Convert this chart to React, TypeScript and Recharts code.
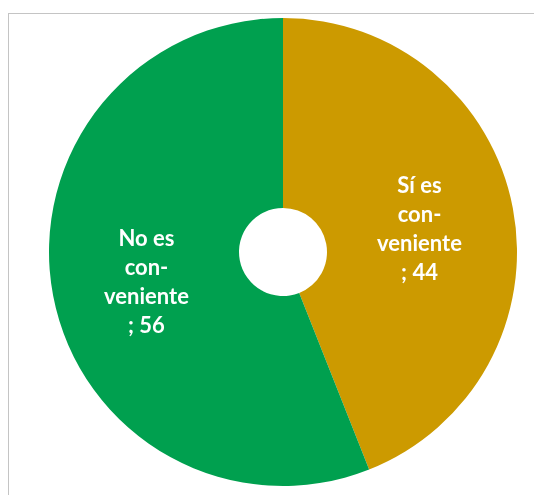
import { PieChart, Pie, Cell } from "recharts";

const categories = ["Sí es conveniente", "No es conveniente"];
const values = [44, 56];
const labelLines = [
  ["Sí es", "con-", "veniente", "; 44"],
  ["No es", "con-", "veniente", "; 56"],
];
const colors = ["#CC9A00", "#00A04F"];

const data = categories.map((name, i) => ({ name, value: values[i] }));

const RADIAN = Math.PI / 180;

const renderLabel = (props: any) => {
  const { cx, cy, midAngle, innerRadius, outerRadius, index } = props;
  const r = (innerRadius + outerRadius) / 2;
  const x = cx + r * Math.cos(-midAngle * RADIAN);
  const y = cy + r * Math.sin(-midAngle * RADIAN) + 2;
  const lines = labelLines[index];
  const lh = 29;
  const startY = y - ((lines.length - 1) * lh) / 2;
  return (
    <text
      x={x}
      y={startY}
      fill="#ffffff"
      textAnchor="middle"
      dominantBaseline="central"
      style={{ fontFamily: "Lato, 'Open Sans', sans-serif", fontWeight: 700, fontSize: 22 }}
    >
      {lines.map((l, i) => (
        <tspan key={i} x={x} y={startY + i * lh}>
          {l}
        </tspan>
      ))}
    </text>
  );
};

export default function App() {
  return (
    <div
      style={{
        position: "fixed",
        left: 8,
        top: 13,
        width: 540,
        height: 500,
        borderTop: "1px solid #C4C4C4",
        borderLeft: "1px solid #C4C4C4",
        overflow: "hidden",
      }}
    >
      <PieChart width={530} height={490} margin={{ top: 0, right: 0, bottom: 0, left: 0 }}>
        <Pie
          data={data}
          dataKey="value"
          nameKey="name"
          cx={274}
          cy={238}
          innerRadius={44}
          outerRadius={234}
          startAngle={90}
          endAngle={-270}
          stroke="none"
          label={renderLabel}
          labelLine={false}
          isAnimationActive={false}
        >
          {data.map((d, i) => (
            <Cell key={d.name} fill={colors[i]} />
          ))}
        </Pie>
      </PieChart>
    </div>
  );
}
